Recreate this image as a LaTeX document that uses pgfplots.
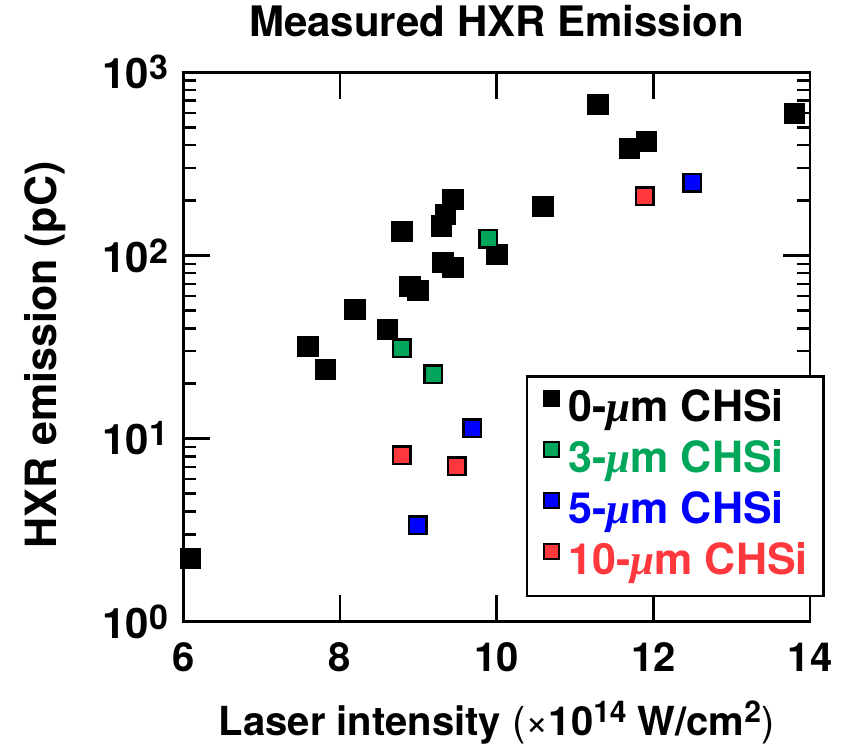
\documentclass[border=0pt]{standalone}
\usepackage{fontspec}
\setmainfont{TeX Gyre Heros}
\newfontfamily\greekfont{Liberation Serif}
\usepackage{pgfplots}
\pgfplotsset{compat=1.18}
\definecolor{cgreen}{RGB}{0,166,90}
\definecolor{cblue}{RGB}{0,0,255}
\definecolor{cred}{RGB}{255,56,62}
\newcommand{\fs}[1]{\fontsize{#1bp}{#1bp}\selectfont}
\newcommand{\tl}[1]{10\raisebox{9bp}{\fs{34}#1}}
\newcommand{\mum}{{\greekfont\bfseries\itshape μ}m}
\begin{document}
\begin{tikzpicture}
\begin{axis}[
  name=ax,
  scale only axis, width=626.7bp, height=549.4bp,
  xmin=6, xmax=14, ymode=log, ymin=1, ymax=1000,
  xtick={6,8,10,12,14}, xticklabels={6,8,10,12,14},
  minor x tick num=0,
  ytick={1,10,100,1000}, yticklabels={\tl{0},\tl{1},\tl{2},\tl{3}},
  /pgf/number format/assume math mode=true,
  axis line style={line width=2.8bp},
  every tick/.style={line width=2.5bp, black},
  major tick length=27bp, minor tick length=13bp,
  tick align=inside,
  every tick label/.append style={inner sep=0pt},
  xticklabel style={font=\bfseries\fs{40}, yshift=-21bp},
  yticklabel style={font=\bfseries\fs{42}, xshift=-15bp},
  title={Measured HXR Emission},
  title style={font=\bfseries\fs{42}, at={(axis description cs:0.5,1)}, anchor=base, yshift=30bp, inner sep=0pt},
  xlabel={Laser intensity {\mdseries(×}10\raisebox{13bp}{\fs{30}14} W/cm\raisebox{13bp}{\fs{30}2}{\mdseries)}},
  xlabel style={font=\bfseries\fs{40}, at={(axis description cs:0.5,0)}, anchor=base, yshift=-113.3bp, inner sep=0pt},
  ylabel={HXR emission (pC)},
  ylabel style={font=\bfseries\fs{43}, at={(axis description cs:-0.2023,0.4854)}, anchor=base, inner sep=0pt},
  legend style={at={(axis description cs:1.0239,0.449)}, anchor=north east,
    draw=black, line width=2.5bp, fill=white, font=\bfseries\fs{43},
    inner xsep=16bp, inner ysep=14bp, row sep=13bp, column sep=9bp,
    nodes={inner sep=0pt, text height=31bp, text depth=7bp}},
  legend cell align=left,
  legend image code/.code={\draw[#1] plot coordinates {(8bp,11.5bp)};},
]
% 0-um CHSi
\addplot[only marks, mark=square*, mark size=10.2bp, mark options={fill=black, draw=black, line width=0.4bp}, forget plot] coordinates {
(6.09,2.23) (7.59,32.0) (7.81,24.0) (8.19,51.0) (8.60,39.7) (8.79,136)
(8.89,68.1) (8.99,64.8) (9.29,145) (9.34,168) (9.44,203) (9.31,92.1)
(9.44,86.5) (10.00,101.8) (10.59,186) (11.29,671) (11.69,386) (11.91,421)
(13.80,599)
};
% 3-um CHSi
\addplot[only marks, mark=square*, mark size=8.75bp, mark options={fill=cgreen, draw=black, line width=2.5bp}, forget plot] coordinates {
(9.89,123) (8.79,31.2) (9.19,22.5)
};
% 5-um CHSi
\addplot[only marks, mark=square*, mark size=8.75bp, mark options={fill=cblue, draw=black, line width=2.5bp}, forget plot] coordinates {
(9.69,11.4) (8.99,3.37) (12.50,249)
};
% 10-um CHSi
\addplot[only marks, mark=square*, mark size=8.75bp, mark options={fill=cred, draw=black, line width=2.5bp}, forget plot] coordinates {
(8.79,8.13) (9.49,7.08) (11.89,210)
};
\addlegendimage{only marks, mark=square*, mark size=8.2bp, mark options={fill=black, draw=black, line width=0.4bp}}
\addlegendentry{0-\mum\ CHSi}
\addlegendimage{only marks, mark=square*, mark size=7.4bp, mark options={fill=cgreen, draw=black, line width=2bp}}
\addlegendentry{\textcolor{cgreen}{3-\mum\ CHSi}}
\addlegendimage{only marks, mark=square*, mark size=7.4bp, mark options={fill=cblue, draw=black, line width=2bp}}
\addlegendentry{\textcolor{cblue}{5-\mum\ CHSi}}
\addlegendimage{only marks, mark=square*, mark size=7.4bp, mark options={fill=cred, draw=black, line width=2bp}}
\addlegendentry{\textcolor{cred}{10-\mum\ CHSi}}
\end{axis}
\path[use as bounding box] ([xshift=-183.3bp,yshift=-125.3bp]ax.south west) rectangle ([xshift=34bp,yshift=72.3bp]ax.north east);
\end{tikzpicture}
\end{document}
